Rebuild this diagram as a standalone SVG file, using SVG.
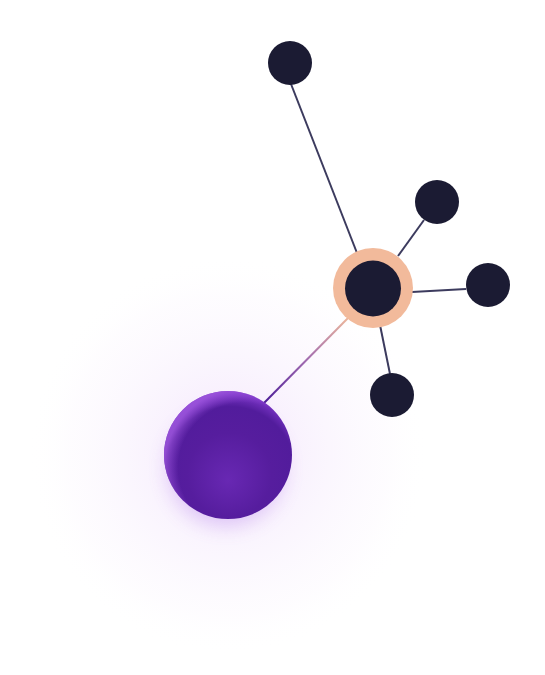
<svg xmlns="http://www.w3.org/2000/svg" width="545" height="675" viewBox="0 0 545 675">
  <defs>
    <radialGradient id="glow" cx="228" cy="455" r="200" gradientUnits="userSpaceOnUse">
      <stop offset="0" stop-color="#f1defb" stop-opacity="0.8"/>
      <stop offset="0.45" stop-color="#f7eefd" stop-opacity="0.6"/>
      <stop offset="0.8" stop-color="#fcf8fe" stop-opacity="0.4"/>
      <stop offset="1" stop-color="#ffffff" stop-opacity="0"/>
    </radialGradient>
    <radialGradient id="sphere" cx="0.52" cy="0.62" r="0.6" fx="0.5" fy="0.7">
      <stop offset="0" stop-color="#6828b3"/>
      <stop offset="0.55" stop-color="#561d9e"/>
      <stop offset="0.85" stop-color="#521c9c"/>
      <stop offset="1" stop-color="#7a35c6"/>
    </radialGradient>
    <radialGradient id="rim" cx="0.62" cy="0.6" r="0.62">
      <stop offset="0.82" stop-color="#9a50dc" stop-opacity="0"/>
      <stop offset="1" stop-color="#a25ae0" stop-opacity="0.75"/>
    </radialGradient>
    <linearGradient id="link" x1="347" y1="319" x2="264" y2="403" gradientUnits="userSpaceOnUse">
      <stop offset="0" stop-color="#eab49c"/>
      <stop offset="0.5" stop-color="#a06ab0"/>
      <stop offset="1" stop-color="#4a1a96"/>
    </linearGradient>
    <filter id="shadow" x="-50%" y="-50%" width="200%" height="200%">
      <feGaussianBlur stdDeviation="10"/>
    </filter>
  </defs>
  <style>
    .edge { stroke: #3c3b5e; stroke-width: 2; fill: none; }
    .dark { fill: #1b1b33; }
  </style>
  <rect width="545" height="675" fill="#ffffff"/>
  <circle cx="228" cy="455" r="200" fill="url(#glow)"/>

  <g id="connectors">
    <line class="edge" x1="291" y1="84" x2="357" y2="253"/>
    <line class="edge" x1="398" y1="256" x2="424" y2="220"/>
    <line class="edge" x1="412" y1="292" x2="466" y2="289"/>
    <line class="edge" x1="380" y1="325" x2="390" y2="374"/>
    <line x1="348" y1="318" x2="263" y2="404" stroke="url(#link)" stroke-width="2"/>
  </g>

  <g id="hub">
    <circle cx="373" cy="288" r="40" fill="#f2ba9b"/>
    <circle class="dark" cx="373" cy="288.5" r="28"/>
  </g>
  <g id="node-top"><circle class="dark" cx="290" cy="63" r="22"/></g>
  <g id="node-upper-right"><circle class="dark" cx="437" cy="202" r="22"/></g>
  <g id="node-right"><circle class="dark" cx="488" cy="285" r="22"/></g>
  <g id="node-bottom"><circle class="dark" cx="392" cy="395" r="22"/></g>

  <g id="sphere-node">
    <circle cx="226" cy="468" r="58" fill="#8a3ee0" opacity="0.25" filter="url(#shadow)"/>
    <circle cx="228" cy="455" r="64" fill="url(#sphere)"/>
    <circle cx="228" cy="455" r="64" fill="url(#rim)"/>
  </g>
</svg>
